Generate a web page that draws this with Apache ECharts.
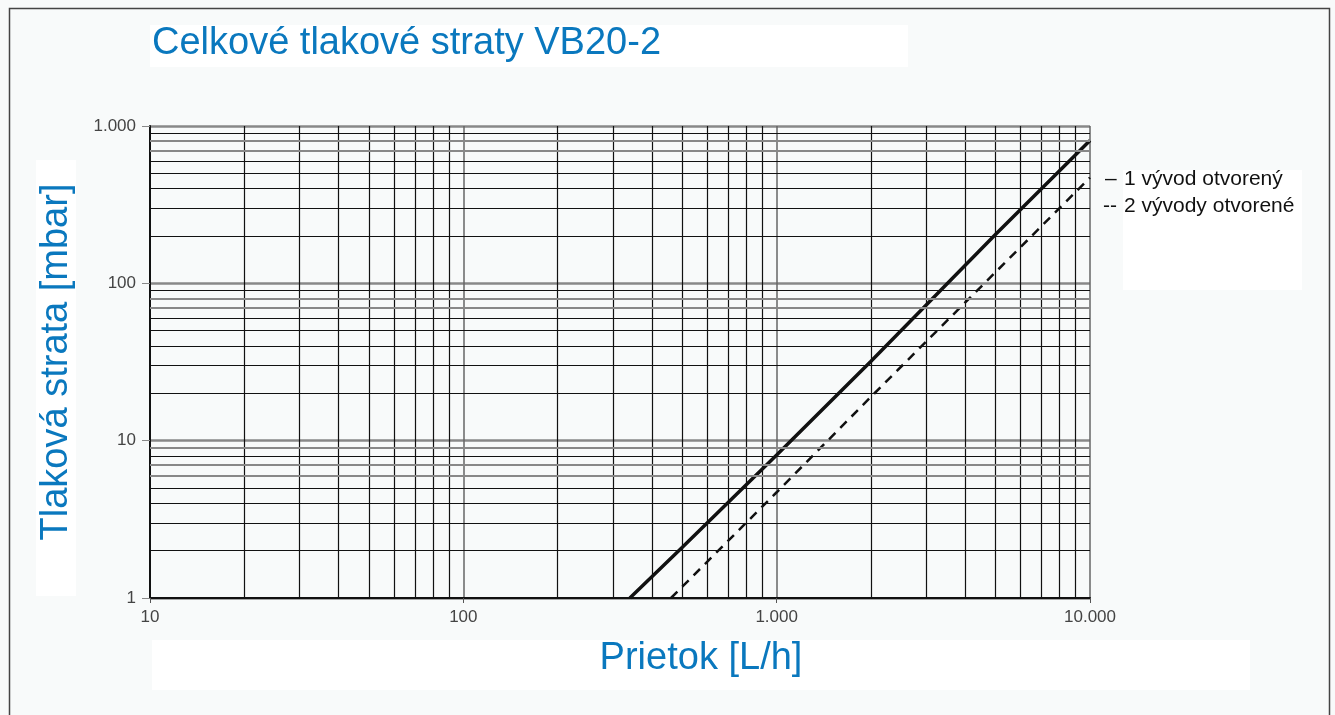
<!DOCTYPE html>
<html>
<head>
<meta charset="utf-8">
<title>Celkové tlakové straty VB20-2</title>
<script src="https://cdn.jsdelivr.net/npm/echarts@6/dist/echarts.min.js"></script>
<style>
    html, body { margin: 0; padding: 0; background: #f8fafa; }
    #chart { width: 1335px; height: 715px; }
</style>
</head>
<body>
<div id="chart"></div>
<script>
// values
var flow1 = [340, 500, 1000, 2000, 5000, 10000];
var loss1 = [1, 2.1, 8.1, 32, 205, 810];
var flow2 = [460, 1000, 2000, 5000, 10000];
var loss2 = [1, 4.7, 19, 118, 470];

var seriesNames = ['1 vývod otvorený', '2 vývody otvorené'];

var xGridLines = [20, 30, 40, 50, 60, 70, 80, 90,
    200, 300, 400, 500, 600, 700, 800, 900,
    2000, 3000, 4000, 5000, 6000, 7000, 8000, 9000];
var yGridBlack = [2, 3, 4, 5, 8, 20, 30, 40, 50, 60, 90, 200, 300, 400, 500, 600, 900];
var yGridGray = [6, 7, 9, 70, 80, 700, 800];

var FONT = '"Liberation Sans", Arial, sans-serif';
var BLUE = '#0a78be';

function dotThousands(v) {
    return String(v).replace(/\B(?=(\d{3})+(?!\d))/g, '.');
}

function pairs(xs, ys) {
    return xs.map(function (x, i) { return [x, ys[i]]; });
}

function gridMarks(axis, values) {
    return values.map(function (v) {
        var d = {};
        d[axis] = v;
        return d;
    });
}

function legendText(x, y, str) {
    return { type: 'text', x: x, y: y, z: 5,
             style: { text: str, font: '21px ' + FONT, fill: '#111', verticalAlign: 'middle' } };
}

var chart = echarts.init(document.getElementById('chart'));

chart.setOption({
    backgroundColor: '#f8fafa',
    animation: false,
    textStyle: { fontFamily: FONT },
    grid: { left: 150, right: 245, top: 126, bottom: 117 },
    xAxis: {
        type: 'log',
        logBase: 10,
        min: 10,
        max: 10000,
        axisLine: { lineStyle: { color: '#111', width: 2 } },
        axisTick: { length: 5, lineStyle: { color: '#555' } },
        axisLabel: {
            color: '#444', fontSize: 17, margin: 11,
            formatter: dotThousands
        },
        splitLine: { show: true, lineStyle: { color: '#666', width: 1.5 } },
        minorTick: { show: false },
        minorSplitLine: { show: false }
    },
    yAxis: {
        type: 'log',
        logBase: 10,
        min: 1,
        max: 1000,
        axisLine: { lineStyle: { color: '#111', width: 2 } },
        axisTick: { length: 8, lineStyle: { color: '#888' } },
        axisLabel: {
            color: '#444', fontSize: 17, margin: 14,
            formatter: dotThousands
        },
        splitLine: { show: true, lineStyle: { color: '#888', width: 2.5 } }
    },
    graphic: [
        { type: 'rect', left: 7, top: 6, shape: { width: 1320, height: 720 },
          style: { fill: 'none', stroke: '#444', lineWidth: 1.5 }, z: -10 },
        { type: 'rect', left: 150, top: 25, shape: { width: 758, height: 42 },
          style: { fill: '#fff' }, z: -5 },
        { type: 'rect', left: 36, top: 160, shape: { width: 40, height: 436 },
          style: { fill: '#fff' }, z: -5 },
        { type: 'rect', left: 152, top: 640, shape: { width: 1098, height: 50 },
          style: { fill: '#fff' }, z: -5 },
        { type: 'rect', left: 1123, top: 170, shape: { width: 179, height: 120 },
          style: { fill: '#fff' }, z: -5 },
        { type: 'text', x: 152, y: 44, z: 5,
          style: { text: 'Celkové tlakové straty VB20-2', font: '38px ' + FONT,
                   fill: BLUE, verticalAlign: 'middle' } },
        { type: 'text', x: 57, y: 362, rotation: Math.PI / 2, z: 5,
          style: { text: 'Tlaková strata [mbar]', font: '38px ' + FONT,
                   fill: BLUE, align: 'center', verticalAlign: 'middle' } },
        { type: 'text', x: 701, y: 659, z: 5,
          style: { text: 'Prietok [L/h]', font: '38px ' + FONT,
                   fill: BLUE, align: 'center', verticalAlign: 'middle' } },
        legendText(1105, 179, '–'),
        legendText(1124, 179, seriesNames[0]),
        legendText(1103, 206, '--'),
        legendText(1124, 206, seriesNames[1])
    ],
    series: [
        {
            type: 'line',
            name: 'grid',
            data: [],
            z: 1,
            silent: true,
            markLine: {
                silent: true,
                symbol: ['none', 'none'],
                label: { show: false },
                emphasis: { disabled: true },
                lineStyle: { color: '#111', width: 1.2, type: 'solid' },
                data: gridMarks('xAxis', xGridLines).concat(gridMarks('yAxis', yGridBlack))
            }
        },
        {
            type: 'line',
            name: 'grid gray',
            data: [],
            z: 1,
            silent: true,
            markLine: {
                silent: true,
                symbol: ['none', 'none'],
                label: { show: false },
                emphasis: { disabled: true },
                lineStyle: { color: '#888', width: 2, type: 'solid' },
                data: gridMarks('yAxis', yGridGray)
            }
        },
        {
            type: 'line',
            name: seriesNames[0],
            data: pairs(flow1, loss1),
            z: 3,
            showSymbol: false,
            lineStyle: { color: '#111', width: 3.5 }
        },
        {
            type: 'line',
            name: seriesNames[1],
            data: pairs(flow2, loss2),
            z: 3,
            showSymbol: false,
            lineStyle: { color: '#111', width: 2.5, type: [9, 7] }
        }
    ]
});
</script>
</body>
</html>
